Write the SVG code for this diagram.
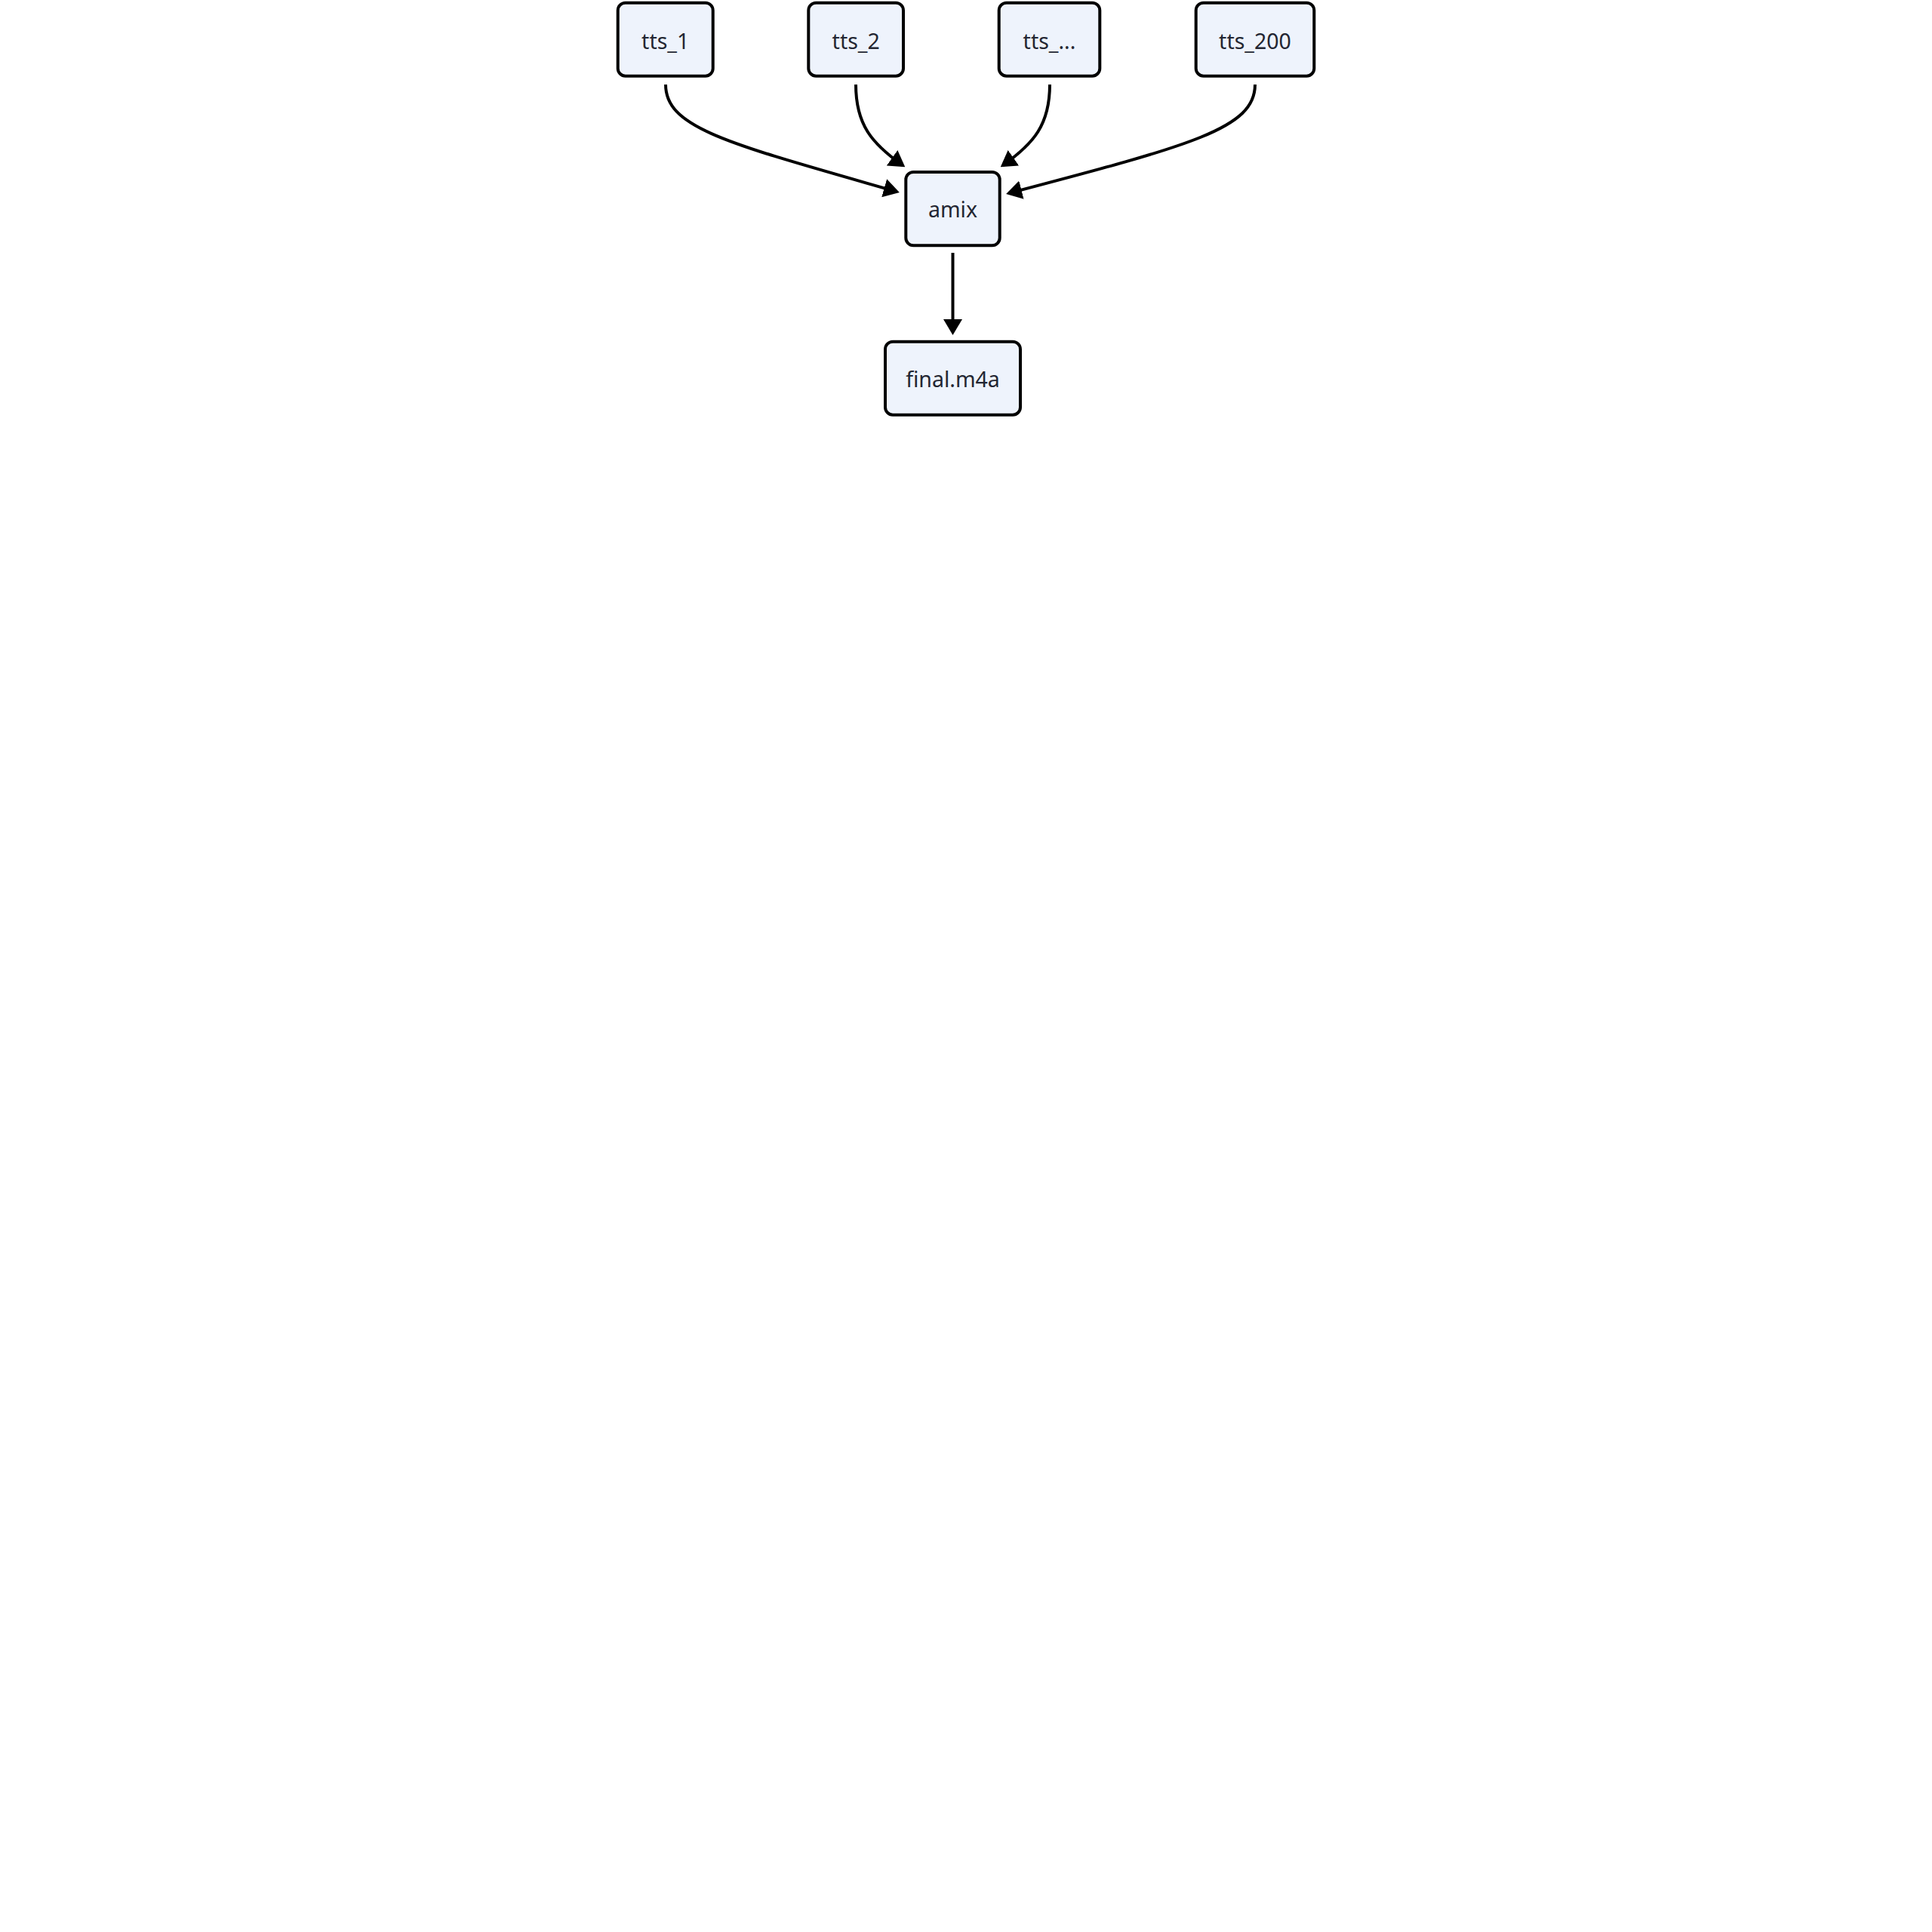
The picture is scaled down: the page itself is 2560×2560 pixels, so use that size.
<svg xmlns="http://www.w3.org/2000/svg" width="2560" height="2560" viewBox="0 0 2560 2560">
  <style>
    .node rect { fill: #eef3fc; stroke: #000000; stroke-width: 4; }
    .node text { font-family: "Noto Sans", "Open Sans", sans-serif; font-size: 28.5px; fill: #232632; text-anchor: middle; }
    .edge { fill: none; stroke: #000000; stroke-width: 4; marker-end: url(#arrow); }
  </style>
  <defs>
    <marker id="arrow" viewBox="0 0 21 25" refX="17" refY="12.5" markerWidth="21" markerHeight="25" markerUnits="userSpaceOnUse" orient="auto">
      <path d="M0,0 L21,12.5 L0,25 z" fill="#000000"/>
    </marker>
  </defs>
  <rect x="0" y="0" width="2560" height="2560" fill="#ffffff"/>
  <g id="connectors">
    <path class="edge" d="M882,112 C882,170 965,190 1188,254"/>
    <path class="edge" d="M1134,112 C1134,165 1155,190 1196,219"/>
    <path class="edge" d="M1391,112 C1391,165 1370,190 1329,219"/>
    <path class="edge" d="M1663,112 C1663,170 1580,192 1337,256"/>
    <path class="edge" d="M1262.5,335 L1262.5,440"/>
  </g>
  <g id="tts_1" class="node">
    <rect x="818.7" y="3.7" width="126" height="97" rx="10" ry="10"/>
    <text x="881.7" y="65">tts_1</text>
  </g>
  <g id="tts_2" class="node">
    <rect x="1071.3" y="3.7" width="125.7" height="97" rx="10" ry="10"/>
    <text x="1134.2" y="65">tts_2</text>
  </g>
  <g id="tts_more" class="node">
    <rect x="1323.7" y="3.7" width="133.6" height="97" rx="10" ry="10"/>
    <text x="1390.5" y="65">tts_...</text>
  </g>
  <g id="tts_200" class="node">
    <rect x="1584.7" y="3.7" width="156.6" height="97" rx="10" ry="10"/>
    <text x="1663" y="65">tts_200</text>
  </g>
  <g id="amix" class="node">
    <rect x="1200.3" y="228" width="124.4" height="97.3" rx="10" ry="10"/>
    <text x="1262.5" y="288">amix</text>
  </g>
  <g id="final" class="node">
    <rect x="1173" y="452.7" width="179" height="97" rx="10" ry="10"/>
    <text x="1262.5" y="513">final.m4a</text>
  </g>
</svg>
